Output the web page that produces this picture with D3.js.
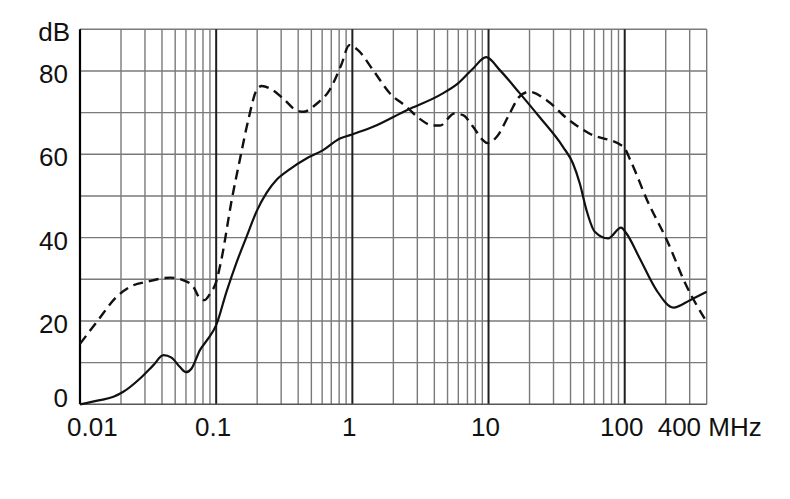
<!DOCTYPE html>
<html>
<head>
<meta charset="utf-8">
<script src="https://cdn.jsdelivr.net/npm/d3@7"></script>
<style>
  html, body { margin: 0; padding: 0; background: #fff; }
  svg { display: block; }
  text { font-family: "Liberation Sans", Arial, sans-serif; fill: #111; }
</style>
</head>
<body>
<svg id="chart" width="790" height="499"></svg>
<script>
// ---- data ----
const solidFreq = [0.01, 0.014, 0.0176, 0.0208, 0.0276, 0.0346, 0.041, 0.047, 0.054, 0.060, 0.066, 0.076, 0.0875, 0.1, 0.119, 0.141, 0.167, 0.2, 0.235, 0.28, 0.346, 0.46, 0.61, 0.81, 0.96, 1.42, 2.51, 4.38, 5.97, 7.7, 9.6, 12.1, 16.8, 23.6, 35.2, 41.7, 46.8, 52.4, 60.3, 75.5, 94, 103, 129, 171, 228, 302, 400];
const solidDb   = [0, 1.0, 1.8, 3.0, 6.2, 9.4, 11.8, 11.2, 9.0, 7.7, 8.6, 13.0, 15.8, 19.0, 27.0, 34.0, 40.2, 46.6, 50.8, 54.0, 56.4, 59.0, 61.0, 63.8, 64.6, 66.6, 70.6, 74.2, 77.0, 80.6, 83.3, 80.2, 74.8, 69.0, 61.8, 57.8, 53.0, 46.6, 41.4, 39.8, 42.4, 41.0, 35.0, 27.4, 23.2, 25.0, 27.0];

const dashFreq = [0.01, 0.0133, 0.0186, 0.024, 0.031, 0.046, 0.057, 0.068, 0.076, 0.082, 0.09, 0.1, 0.109, 0.13, 0.149, 0.172, 0.198, 0.216, 0.248, 0.31, 0.39, 0.435, 0.55, 0.68, 0.83, 0.95, 1.1, 1.42, 1.89, 2.5, 3.1, 3.9, 4.4, 5.6, 6.5, 7.7, 9.1, 9.8, 11.5, 14.3, 16.8, 19.9, 26.7, 37.7, 55, 98, 110, 146, 204, 286, 400];
const dashDb   = [14.5, 19.8, 25.8, 28.4, 29.4, 30.4, 29.8, 28.2, 25.4, 25.0, 26.5, 29.4, 34.6, 49.0, 58.6, 68.2, 75.4, 76.4, 75.8, 73.4, 70.5, 70.2, 72.2, 75.4, 81.5, 86.2, 85.0, 80.2, 74.6, 71.4, 68.6, 66.9, 66.9, 69.8, 69.4, 66.6, 63.4, 62.7, 64.2, 69.8, 73.8, 75.0, 73.0, 68.6, 65.0, 61.8, 58.6, 49.0, 39.4, 28.2, 19.8];

const xTickValues = [0.01, 0.1, 1, 10, 100, 400];
const xTickLabels = ["0.01", "0.1", "1", "10", "100", "400 MHz"];
const yTickValues = [0, 20, 40, 60, 80];
const yTickLabels = ["0", "20", "40", "60", "80"];
const yUnit = "dB";
const xDomain = [0.01, 400];
const yDomain = [0, 90];

// ---- layout ----
const svg = d3.select("#chart");
const pLeft = 80, pRight = 706.7, pTop = 29.3, pBottom = 404.3;

const x = d3.scaleLog().domain(xDomain).range([pLeft, pRight]);
const y = d3.scaleLinear().domain(yDomain).range([pBottom, pTop]);

const g = svg.append("g");

// minor vertical grid lines (2..9 in each decade)
const minor = [];
for (let e = -2; e <= 2; e++) {
  for (let m = 2; m <= 9; m++) {
    const v = m * Math.pow(10, e);
    if (v < 400) minor.push(v);
  }
}
g.selectAll("line.minor").data(minor).enter().append("line")
  .attr("x1", d => x(d)).attr("x2", d => x(d))
  .attr("y1", pTop).attr("y2", pBottom)
  .attr("stroke", "#7a7a7a").attr("stroke-width", 1.4);

// horizontal grid lines every 10 dB
const hLines = d3.range(10, 91, 10);
g.selectAll("line.h").data(hLines).enter().append("line")
  .attr("x1", pLeft).attr("x2", pRight)
  .attr("y1", d => y(d)).attr("y2", d => y(d))
  .attr("stroke", "#7a7a7a").attr("stroke-width", 1.4);

// right border (400 MHz)
g.append("line").attr("x1", x(400)).attr("x2", x(400)).attr("y1", pTop).attr("y2", pBottom)
  .attr("stroke", "#7a7a7a").attr("stroke-width", 1.4);

// decade lines (darker)
const decades = [0.1, 1, 10, 100];
g.selectAll("line.dec").data(decades).enter().append("line")
  .attr("x1", d => x(d)).attr("x2", d => x(d))
  .attr("y1", pTop).attr("y2", pBottom)
  .attr("stroke", "#1e1e1e").attr("stroke-width", 2);

// bottom axis line
g.append("line").attr("x1", pLeft).attr("x2", pRight).attr("y1", y(0)).attr("y2", y(0))
  .attr("stroke", "#555").attr("stroke-width", 1.6);
// left axis line
g.append("line").attr("x1", pLeft).attr("x2", pLeft).attr("y1", pTop).attr("y2", pBottom)
  .attr("stroke", "#000").attr("stroke-width", 2.2);

// curves
const solidPts = solidFreq.map((f, i) => [f, solidDb[i]]);
const dashPts = dashFreq.map((f, i) => [f, dashDb[i]]);
const line = d3.line().x(d => x(d[0])).y(d => y(d[1])).curve(d3.curveMonotoneX);

g.append("path").datum(dashPts).attr("d", line)
  .attr("fill", "none").attr("stroke", "#111").attr("stroke-width", 2.4)
  .attr("stroke-dasharray", "10,6");
g.append("path").datum(solidPts).attr("d", line)
  .attr("fill", "none").attr("stroke", "#111").attr("stroke-width", 2.2);

// y labels
const fs = 26;
g.selectAll("text.y").data(yTickValues).enter().append("text")
  .attr("x", 68)
  .attr("y", d => d === 0 ? y(d) - 6 : y(d) + 3)
  .attr("text-anchor", "end")
  .attr("dominant-baseline", "central")
  .attr("font-size", fs)
  .text((d, i) => yTickLabels[i]);

g.append("text").attr("x", 70).attr("y", 41).attr("text-anchor", "end")
  .attr("font-size", fs).text(yUnit);

// x labels
const nX = xTickValues.length;
g.selectAll("text.x").data(xTickValues).enter().append("text")
  .attr("x", (d, i) => i === 0 ? x(d) - 13 : (i === nX - 1 ? x(d) - 49 : x(d) - 3))
  .attr("y", 436)
  .attr("text-anchor", (d, i) => (i === 0 || i === nX - 1) ? "start" : "middle")
  .attr("font-size", fs)
  .text((d, i) => xTickLabels[i]);
</script>
</body>
</html>
